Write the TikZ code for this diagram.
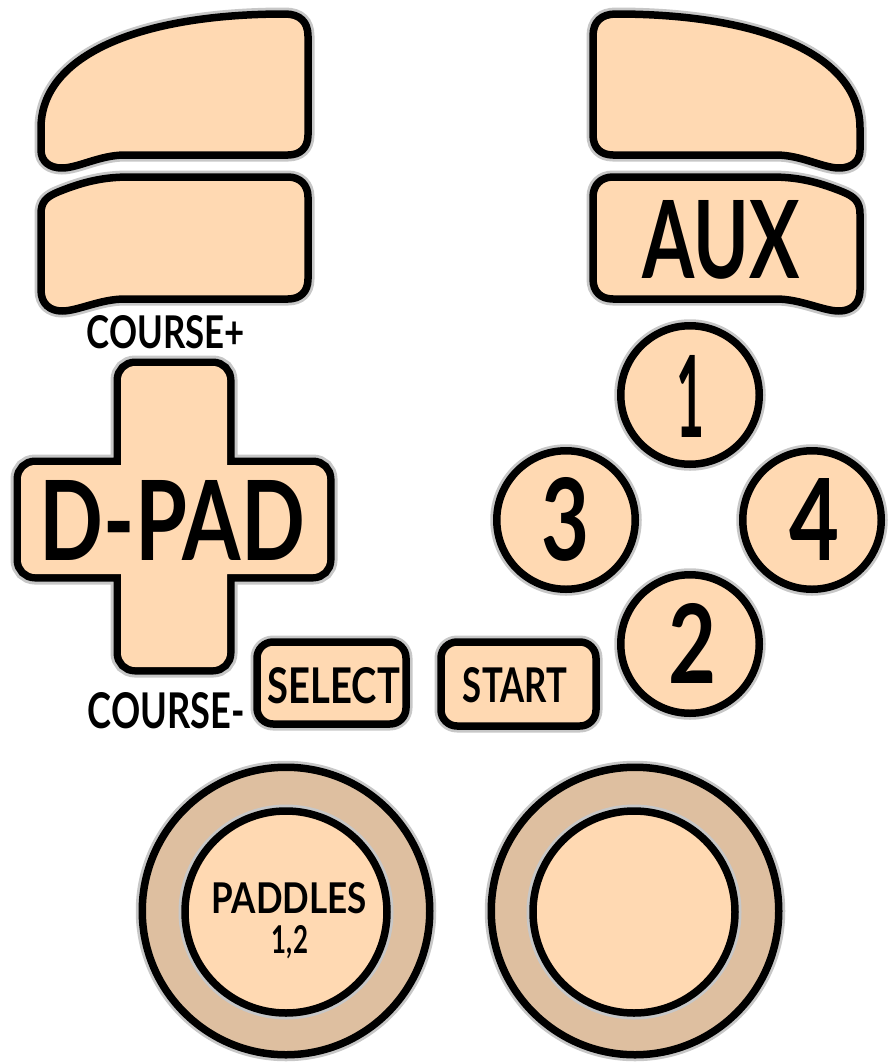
\documentclass[tikz,border=0pt]{standalone}
\usepackage{fontspec}
\setmainfont{Lato}
\usepackage{graphicx}
\definecolor{peach}{RGB}{255,217,178}
\definecolor{ringc}{RGB}{222,191,160}
\newcommand{\fittext}[3]{\resizebox{#1pt}{#2pt}{\bfseries #3}}
\begin{document}
\begin{tikzpicture}[x=1pt,y=-1pt,
  btn/.style={draw=black, line width=7.5pt, fill=peach, line join=round,
    preaction={draw=black!22, line width=13pt}},
  lbl/.style={anchor=base, inner sep=0pt, outer sep=0pt, text=black},
  rbtn/.style={btn, circle, minimum size=138.5pt, inner sep=0pt},
  padbar/.style={rounded corners=14pt}]
\useasboundingbox (0,0) rectangle (887,1063);

% left bumpers
\draw[btn] (41,150) -- (41,128) .. controls (41,55) and (140,14) .. (285,14)
  .. controls (300,14) and (308,22) .. (308,36) -- (308,135)
  .. controls (308,148) and (300,155) .. (288,155) -- (125,155)
  .. controls (100,155) and (78,168) .. (62,168)
  .. controls (50,168) and (41,162) .. (41,150) -- cycle;
\draw[btn] (41,290) -- (41,214) .. controls (41,202) and (46,197) .. (58,192)
  .. controls (85,181) and (105,177) .. (130,177) -- (288,177)
  .. controls (300,177) and (308,185) .. (308,197) -- (308,279)
  .. controls (308,292) and (300,299) .. (288,299) -- (125,299)
  .. controls (100,299) and (78,311) .. (62,311)
  .. controls (50,311) and (41,304) .. (41,290) -- cycle;

% right bumpers (mirror)
\begin{scope}[xshift=901pt, xscale=-1]
\draw[btn] (41,150) -- (41,128) .. controls (41,55) and (140,14) .. (285,14)
  .. controls (300,14) and (308,22) .. (308,36) -- (308,135)
  .. controls (308,148) and (300,155) .. (288,155) -- (125,155)
  .. controls (100,155) and (78,168) .. (62,168)
  .. controls (50,168) and (41,162) .. (41,150) -- cycle;
\draw[btn] (41,290) -- (41,214) .. controls (41,202) and (46,197) .. (58,192)
  .. controls (85,181) and (105,177) .. (130,177) -- (288,177)
  .. controls (300,177) and (308,185) .. (308,197) -- (308,279)
  .. controls (308,292) and (300,299) .. (288,299) -- (125,299)
  .. controls (100,299) and (78,311) .. (62,311)
  .. controls (50,311) and (41,304) .. (41,290) -- cycle;
\end{scope}
\node[lbl] (aux) at (721,278) {\fittext{157}{78}{AUX}};

% D-pad
\path[padbar, draw=black!22, line width=21pt] (121,366) rectangle (227,667) (21,465) rectangle (327,574);
\path[padbar, draw=black, line width=15pt] (121,366) rectangle (227,667) (21,465) rectangle (327,574);
\path[padbar, fill=peach] (121,366) rectangle (227,667) (21,465) rectangle (327,574);
\node[lbl] (dpad) at (172.5,560) {\fittext{265}{80}{D-PAD}};
\node[lbl] (cplus) at (166,348) {\fittext{158}{33}{COURSE+}};
\node[lbl] (cminus) at (166.5,728) {\fittext{157}{36}{COURSE-}};

% select / start
\node[btn, rounded corners=16pt, minimum width=149pt, minimum height=82pt, inner sep=0pt] (select) at (331.5,683) {};
\node[lbl] (selectt) at (334,703) {\fittext{132}{36}{SELECT}};
\node[btn, rounded corners=16pt, minimum width=155pt, minimum height=84pt, inner sep=0pt] (start) at (518.5,684) {};
\node[lbl] (startt) at (515,702) {\fittext{104}{35}{START}};

% face buttons
\node[rbtn] (b1) at (690,395) {};
\node[rbtn] (b3) at (566,520) {};
\node[rbtn] (b4) at (812,520) {};
\node[rbtn] (b2) at (690,644) {};
\node[lbl] (t1) at (690.5,437) {\fittext{28}{82}{1}};
\node[lbl] (t3) at (566,560) {\fittext{48}{83}{3}};
\node[lbl] (t4) at (815,560) {\fittext{50}{82}{4}};
\node[lbl] (t2) at (692.5,683) {\fittext{48}{80}{2}};

% sticks
\node[btn, fill=ringc, circle, minimum size=287.5pt, inner sep=0pt] (lstick) at (286,911) {};
\node[btn, circle, minimum size=202pt, inner sep=0pt] (lcap) at (286,912) {};
\node[btn, fill=ringc, circle, minimum size=287.5pt, inner sep=0pt] (rstick) at (635,911) {};
\node[btn, circle, minimum size=202pt, inner sep=0pt] (rcap) at (634,912) {};
\node[lbl] (paddles) at (289.5,913) {\fittext{155}{31}{PADDLES}};
\node[lbl] (p12) at (290,953) {\fittext{36}{28}{1,2}};
\end{tikzpicture}
\end{document}
